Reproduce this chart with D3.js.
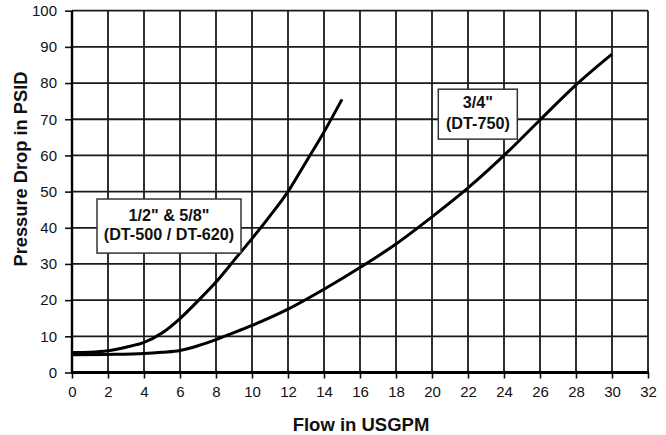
<!DOCTYPE html>
<html><head><meta charset="utf-8">
<script src="https://cdn.jsdelivr.net/npm/d3@7"></script>
<style>body{margin:0;background:#fff}svg{display:block}text{font-family:"Liberation Sans",Arial,Helvetica,sans-serif}</style>
</head><body>
<script>
const xTicks = [0,2,4,6,8,10,12,14,16,18,20,22,24,26,28,30,32];
const yTicks = [0,10,20,30,40,50,60,70,80,90,100];
const smallFlow = [0,1,2,3,4,5,6,7,8,9,10,11,12,13,14,15];
const smallDrop = [5.5,5.6,6.0,7.0,8.3,10.9,14.9,19.8,25.0,31.0,37.0,43.3,50.0,58.2,66.5,75.5];
const largeFlow = [0,2,4,5,6,7,8,9,10,12,14,16,18,20,22,24,26,28,30];
const largeDrop = [4.9,5.0,5.25,5.6,6.1,7.4,9.1,11.0,13.0,17.5,23.0,29.0,35.5,43.0,51.0,60.0,69.8,79.5,88.0];
const labelSmall = ["1/2\" & 5/8\"", "(DT-500 / DT-620)"];
const labelLarge = ["3/4\"", "(DT-750)"];
const xTitle = "Flow in USGPM";
const yTitle = "Pressure Drop in PSID";

const W = 666, H = 435;
const svg = d3.select("body").append("svg").attr("width", W).attr("height", H);
const x = d3.scaleLinear().domain([0,32]).range([72,648]);
const y = d3.scaleLinear().domain([0,100]).range([372.5,10.7]);

// grid
const g = svg.append("g");
g.selectAll("line.v").data(xTicks.filter(d=>d>0)).join("line")
  .attr("x1", d=>x(d)).attr("x2", d=>x(d)).attr("y1", y(0)).attr("y2", y(100))
  .attr("stroke", "#1a1a1a").attr("stroke-width", 1.8);
g.selectAll("line.h").data(yTicks.filter(d=>d>0)).join("line")
  .attr("x1", x(0)).attr("x2", x(32)).attr("y1", d=>y(d)).attr("y2", d=>y(d))
  .attr("stroke", "#1a1a1a").attr("stroke-width", 1.8);

// axes
const xAxis = d3.axisBottom(x).tickValues(xTicks).tickSize(6).tickPadding(8);
const yAxis = d3.axisLeft(y).tickValues(yTicks).tickSize(7).tickPadding(8);
const gx = svg.append("g").attr("transform", `translate(0,${y(0)})`).call(xAxis);
const gy = svg.append("g").attr("transform", `translate(${x(0)},0)`).call(yAxis);
[gx, gy].forEach(a => {
  a.select(".domain").remove();
  a.selectAll(".tick line").attr("stroke", "#111").attr("stroke-width", 1.6);
  a.selectAll(".tick text").attr("fill", "#111").style("font-size", "15px").style("font-family", '"Liberation Sans",Arial,sans-serif');
});
svg.append("line").attr("x1", x(0)-1).attr("x2", x(32)+1).attr("y1", y(0)).attr("y2", y(0)).attr("stroke", "#000").attr("stroke-width", 3);
svg.append("line").attr("x1", x(0)).attr("x2", x(0)).attr("y1", y(100)).attr("y2", y(0)).attr("stroke", "#000").attr("stroke-width", 2.4);

// curves
const line = d3.line().x(d=>x(d[0])).y(d=>y(d[1])).curve(d3.curveMonotoneX);
const s1 = smallFlow.map((f,i)=>[f, smallDrop[i]]);
const s2 = largeFlow.map((f,i)=>[f, largeDrop[i]]);
[s1, s2].forEach(s => svg.append("path").attr("d", line(s)).attr("fill", "none").attr("stroke", "#000").attr("stroke-width", 3));

// labels
function box(lines, x0, y0, x1, y1, cx, bases, fs) {
  svg.append("rect").attr("x", x(x0)).attr("y", y(y0)).attr("width", x(x1)-x(x0)).attr("height", y(y1)-y(y0))
    .attr("fill", "#fff").attr("stroke", "#333").attr("stroke-width", 1.5);
  lines.forEach((t,i) => svg.append("text").attr("x", x(cx)).attr("y", y(bases[i]))
    .attr("text-anchor", "middle").style("font-weight", "bold").style("font-size", fs+"px").attr("fill", "#111").text(t));
}
box(labelSmall, 1.39, 47.95, 9.39, 33.0, 5.39, [42.0, 36.6], 16.2);
box(labelLarge, 20.35, 78.3, 24.74, 64.5, 22.55, [73.0, 67.2], 16.2);

// titles
svg.append("text").attr("x", 361).attr("y", 430.5).attr("text-anchor", "middle")
  .style("font-weight", "bold").style("font-size", "18.5px").attr("fill", "#111").text(xTitle);
svg.append("text").attr("transform", "translate(27,169) rotate(-90)").attr("text-anchor", "middle")
  .style("font-weight", "bold").style("font-size", "18.3px").attr("fill", "#111").text(yTitle);
</script>
</body></html>
